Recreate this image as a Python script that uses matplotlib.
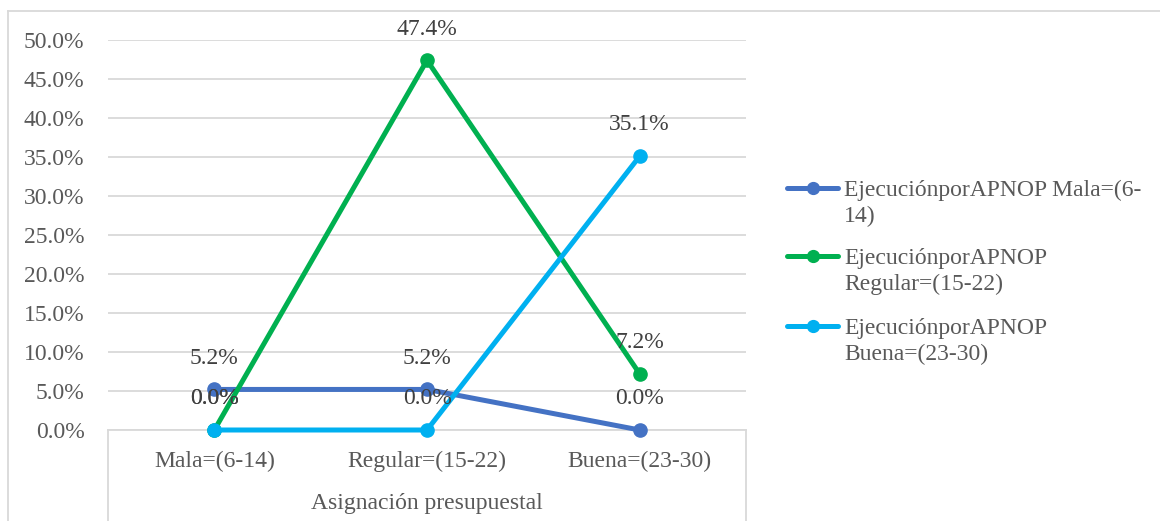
import matplotlib.pyplot as plt
from matplotlib.lines import Line2D
from matplotlib.ticker import FuncFormatter

# ---- data (percent) ----
categories = ["Mala=(6-14)", "Regular=(15-22)", "Buena=(23-30)"]
mala = [5.2, 5.2, 0.0]
regular = [0.0, 47.4, 7.2]
buena = [0.0, 0.0, 35.1]
series_labels = ["EjecuciónporAPNOP Mala=(6-\n14)",
                 "EjecuciónporAPNOP\nRegular=(15-22)",
                 "EjecuciónporAPNOP\nBuena=(23-30)"]
colors = ["#4472C4", "#00B050", "#00B0F0"]
y_ticks = [0, 5, 10, 15, 20, 25, 30, 35, 40, 45, 50]

plt.rcParams['font.family'] = ['Liberation Serif', 'DejaVu Serif']
FS = 17
GRID = "#D9D9D9"
TXT = "#595959"
LBL = "#404040"

fig = plt.figure(figsize=(11.6, 5.21), dpi=100)
ax = fig.add_axes([108 / 1160, 91 / 521, 638 / 1160, 390 / 521])

x = list(range(len(categories)))
for vals, col in zip([mala, regular, buena], colors):
    ax.plot(x, vals, color=col, lw=3.6, marker='o', markersize=9.5,
            solid_capstyle='round', zorder=3, clip_on=False)
    for xi, v in zip(x, vals):
        ax.annotate(f"{v:.1f}%", (xi, v), xytext=(0, 22.5), textcoords='offset points',
                    ha='center', va='center', fontsize=FS, color=LBL, zorder=5)

ax.set_xlim(-0.5, 2.5)
ax.set_ylim(0, 50)
ax.set_yticks(y_ticks)
ax.yaxis.set_major_formatter(FuncFormatter(lambda v, p: f"{v:.1f}%"))
ax.set_xticks(x)
ax.set_xticklabels(categories)
ax.tick_params(axis='y', length=0, pad=17, labelsize=FS, labelcolor=TXT)
ax.tick_params(axis='x', length=0, pad=15, labelsize=FS, labelcolor=TXT)
ax.grid(axis='y', color=GRID, lw=1.3)
ax.set_axisbelow(True)
for s in ['top', 'left', 'right']:
    ax.spines[s].set_visible(False)
ax.spines['bottom'].set_color(GRID)
ax.spines['bottom'].set_linewidth(1.3)

# category box below axis
for xa in (0, 1):
    ax.add_line(Line2D([xa, xa], [0, -0.26], transform=ax.transAxes,
                       color=GRID, lw=1.3, clip_on=False))
ax.text(0.5, -0.188, "Asignación presupuestal", transform=ax.transAxes,
        ha='center', va='center', fontsize=FS, color=TXT)

# chart border (top and left)
fig.add_artist(Line2D([8 / 1160, 8 / 1160], [0, 1 - 11 / 521], color=GRID, lw=1.3))
fig.add_artist(Line2D([8 / 1160, 1], [1 - 11 / 521, 1 - 11 / 521], color=GRID, lw=1.3))

# legend
leg_y = [188, 256, 326]
for yy, col, lab in zip(leg_y, colors, series_labels):
    yf = 1 - yy / 521
    fig.add_artist(Line2D([787 / 1160, 838 / 1160], [yf, yf], color=col, lw=3.6,
                          solid_capstyle='round'))
    fig.add_artist(Line2D([812.5 / 1160], [yf], color=col, marker='o', markersize=8.5))
    fig.text(844 / 1160, yf + 8 / 521, lab, ha='left', va='top', fontsize=FS,
             color=TXT, linespacing=1.32)

fig.savefig("out.png", dpi=100)
